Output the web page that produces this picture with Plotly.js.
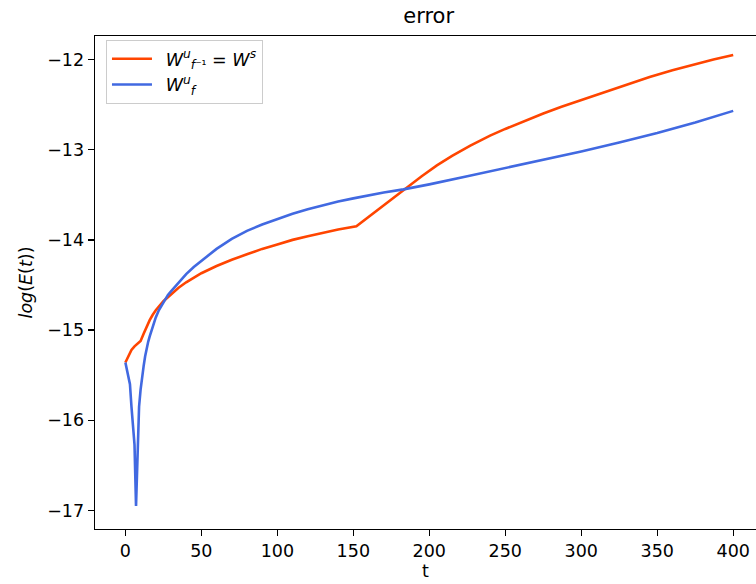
<!DOCTYPE html>
<html>
<head>
<meta charset="utf-8">
<script src="https://cdn.plot.ly/plotly-3.0.1.min.js"></script>
<style>html,body{margin:0;padding:0;background:#fff;}#chart{width:756px;height:584px;}</style>
</head>
<body>
<div id="chart"></div>
<script>
// Series 1: W^u_{f^-1} = W^s (orange)
const tOrange = [0, 2, 4, 6, 8, 10, 12, 14, 16, 18, 20, 25, 30, 35, 40, 45, 50, 60, 70, 80, 90, 100, 110, 120, 130, 140, 152, 160, 170, 183, 195, 205, 215, 227, 240, 250, 262, 275, 287, 300, 315, 330, 345, 360, 374, 387, 400];
const yOrange = [-15.36, -15.28, -15.22, -15.18, -15.15, -15.12, -15.04, -14.96, -14.89, -14.83, -14.78, -14.68, -14.6, -14.53, -14.47, -14.42, -14.37, -14.29, -14.22, -14.16, -14.1, -14.05, -14.0, -13.96, -13.92, -13.885, -13.85, -13.745, -13.615, -13.445, -13.295, -13.175, -13.07, -12.955, -12.845, -12.77, -12.685, -12.6, -12.525, -12.45, -12.36, -12.275, -12.195, -12.12, -12.055, -12.0, -11.95];

// Series 2: W^u_f (blue)
const tBlue = [0, 1, 2, 3, 4, 5, 6, 7, 8, 9, 10, 11, 12, 13, 14, 15, 16, 17, 18, 20, 22, 25, 28, 30, 35, 40, 45, 50, 60, 70, 80, 90, 100, 110, 120, 130, 140, 150, 160, 170, 183, 200, 225, 250, 275, 300, 325, 350, 375, 400];
const yBlue = [-15.36, -15.43, -15.5, -15.6, -15.85, -16.08, -16.27, -16.95, -16.25, -15.85, -15.66, -15.51, -15.4, -15.29, -15.2, -15.13, -15.07, -15.01, -14.95, -14.86, -14.78, -14.69, -14.61, -14.57, -14.47, -14.38, -14.3, -14.23, -14.1, -13.99, -13.9, -13.83, -13.77, -13.71, -13.66, -13.615, -13.575, -13.54, -13.505, -13.475, -13.44, -13.385, -13.295, -13.205, -13.115, -13.02, -12.92, -12.815, -12.7, -12.57];

const xTicks = [0, 50, 100, 150, 200, 250, 300, 350, 400];
const yTicks = [-17, -16, -15, -14, -13, -12];
const yTickText = ['\u221217', '\u221216', '\u221215', '\u221214', '\u221213', '\u221212'];

const font = {family: 'DejaVu Sans', size: 17.5, color: '#000'};

const traces = [
  {x: tOrange, y: yOrange, type: 'scatter', mode: 'lines',
   line: {color: '#FF4500', width: 2.6},
   name: '\u2002<i>W</i><sup><i>u</i></sup><sub><i>f</i>\u207B\u00B9</sub> = <i>W</i><sup><i>s</i></sup>'},
  {x: tBlue, y: yBlue, type: 'scatter', mode: 'lines',
   line: {color: '#4169E1', width: 2.6},
   name: '\u2002<i>W</i><sup><i>u</i></sup><sub><i>f</i></sub>'}
];

const layout = {
  width: 756, height: 584,
  margin: {l: 95, r: 0, t: 36, b: 55},
  paper_bgcolor: '#fff', plot_bgcolor: '#fff',
  font: font,
  title: {text: 'error', font: {family: 'DejaVu Sans', size: 21, color: '#000'},
          xref: 'container', x: 0.567, xanchor: 'center', yref: 'container', y: 0.974, yanchor: 'middle'},
  xaxis: {range: [-20, 415], tickvals: xTicks, ticktext: xTicks.map(String),
          showgrid: false, zeroline: false, showline: true, linecolor: '#000', linewidth: 1.4,
          mirror: true, ticks: 'outside', ticklen: 6, tickwidth: 1.4, tickcolor: '#000',
          tickfont: font, title: {text: 't', font: font, standoff: 4}},
  yaxis: {range: [-17.205, -11.74], tickvals: yTicks, ticktext: yTickText,
          showgrid: false, zeroline: false, showline: true, linecolor: '#000', linewidth: 1.4,
          mirror: false, ticks: 'outside', ticklen: 6, tickwidth: 1.4, tickcolor: '#000',
          tickfont: font, title: {text: '<i>log</i>(<i>E</i>(<i>t</i>))', font: font, standoff: 10}},
  showlegend: true,
  legend: {x: 0.0166, y: 0.992, xanchor: 'left', yanchor: 'top',
           bgcolor: 'rgba(255,255,255,0.8)', bordercolor: '#cccccc', borderwidth: 1,
           font: {family: 'DejaVu Sans', size: 17.5, color: '#000'}, itemwidth: 40, tracegroupgap: 2}
};

Plotly.newPlot('chart', traces, layout, {displayModeBar: false, staticPlot: true});
</script>
</body>
</html>
